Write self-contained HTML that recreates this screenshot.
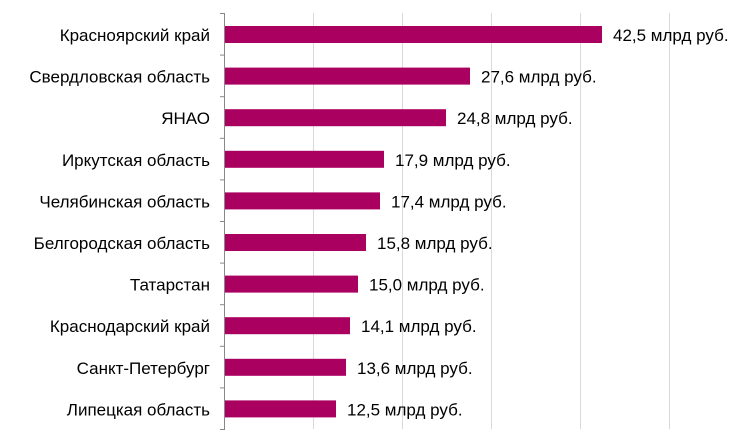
<!DOCTYPE html>
<html><head><meta charset="utf-8"><style>
html,body{margin:0;padding:0;background:#fff;}
svg{display:block;}
text{font-family:"Liberation Sans",Arial,sans-serif;font-size:17px;fill:#000;}
</style></head><body>
<svg width="752" height="444" viewBox="0 0 752 444">
<g stroke="#d9d9d9" stroke-width="1">
<line x1="313.5" y1="13" x2="313.5" y2="429"/>
<line x1="402.5" y1="13" x2="402.5" y2="429"/>
<line x1="491.5" y1="13" x2="491.5" y2="429"/>
<line x1="580.5" y1="13" x2="580.5" y2="429"/>
<line x1="669.5" y1="13" x2="669.5" y2="429"/>
</g>
<g fill="#aa0060">
<rect x="225" y="26" width="377" height="17"/>
<rect x="225" y="67.6" width="245" height="17"/>
<rect x="225" y="109.2" width="221" height="17"/>
<rect x="225" y="150.8" width="159" height="17"/>
<rect x="225" y="192.4" width="155" height="17"/>
<rect x="225" y="234" width="141" height="17"/>
<rect x="225" y="275.6" width="133" height="17"/>
<rect x="225" y="317.2" width="125" height="17"/>
<rect x="225" y="358.8" width="121" height="17"/>
<rect x="225" y="400.4" width="111" height="17"/>
</g>
<g stroke="#888" stroke-width="1">
<line x1="224.5" y1="13" x2="224.5" y2="430"/>
<line x1="220" y1="13.5" x2="224.5" y2="13.5"/>
<line x1="220" y1="55.1" x2="224.5" y2="55.1"/>
<line x1="220" y1="96.7" x2="224.5" y2="96.7"/>
<line x1="220" y1="138.3" x2="224.5" y2="138.3"/>
<line x1="220" y1="179.9" x2="224.5" y2="179.9"/>
<line x1="220" y1="221.5" x2="224.5" y2="221.5"/>
<line x1="220" y1="263.1" x2="224.5" y2="263.1"/>
<line x1="220" y1="304.7" x2="224.5" y2="304.7"/>
<line x1="220" y1="346.3" x2="224.5" y2="346.3"/>
<line x1="220" y1="387.9" x2="224.5" y2="387.9"/>
<line x1="220" y1="429.5" x2="224.5" y2="429.5"/>
</g>
<g text-anchor="end">
<text x="210" y="41">Красноярский край</text>
<text x="210" y="82.6">Свердловская область</text>
<text x="210" y="124.2">ЯНАО</text>
<text x="210" y="165.8">Иркутская область</text>
<text x="210" y="207.4">Челябинская область</text>
<text x="210" y="249">Белгородская область</text>
<text x="210" y="290.6">Татарстан</text>
<text x="210" y="332.2">Краснодарский край</text>
<text x="210" y="373.8">Санкт-Петербург</text>
<text x="210" y="415.4">Липецкая область</text>
</g>
<g>
<text x="613" y="41">42,5 млрд руб.</text>
<text x="481" y="82.6">27,6 млрд руб.</text>
<text x="457" y="124.2">24,8 млрд руб.</text>
<text x="395" y="165.8">17,9 млрд руб.</text>
<text x="391" y="207.4">17,4 млрд руб.</text>
<text x="377" y="249">15,8 млрд руб.</text>
<text x="369" y="290.6">15,0 млрд руб.</text>
<text x="361" y="332.2">14,1 млрд руб.</text>
<text x="357" y="373.8">13,6 млрд руб.</text>
<text x="347" y="415.4">12,5 млрд руб.</text>
</g>
</svg>
</body></html>
